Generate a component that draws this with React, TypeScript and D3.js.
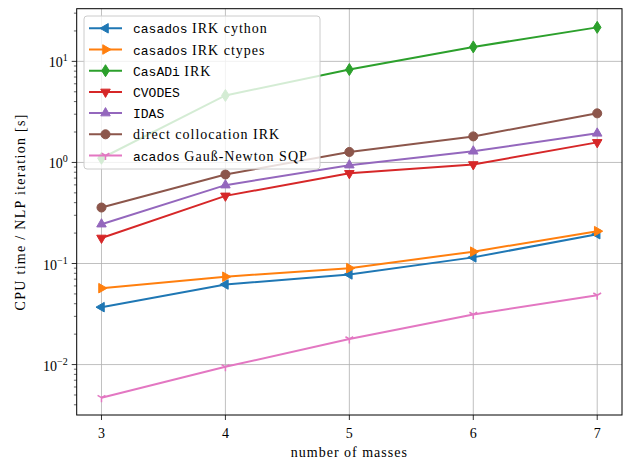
import React, { useEffect, useRef } from 'react';
import * as d3 from 'd3';

// number of masses on the x axis
const masses = [3, 4, 5, 6, 7];

// CPU time per NLP iteration [s]
const casadosCython = [0.037, 0.062, 0.078, 0.115, 0.195];
const casadosCtypes = [0.057, 0.074, 0.090, 0.131, 0.209];
const casadiIrk = [1.10, 4.6, 8.3, 13.9, 21.7];
const cvodes = [0.179, 0.467, 0.78, 0.955, 1.58];
const idas = [0.245, 0.596, 0.94, 1.29, 1.94];
const directCollocation = [0.358, 0.76, 1.27, 1.81, 3.06];
const acadosGN = [0.0047, 0.0095, 0.0179, 0.0313, 0.0485];

const xTicks = [3, 4, 5, 6, 7];
const yTickExponents = [-2, -1, 0, 1];

const series = [
    { mono: 'casados', rest: ' IRK cython', values: casadosCython, color: '#1f77b4', marker: 'left' },
    { mono: 'casados', rest: ' IRK ctypes', values: casadosCtypes, color: '#ff7f0e', marker: 'right' },
    { mono: 'CasADi', rest: ' IRK', values: casadiIrk, color: '#2ca02c', marker: 'diamond' },
    { mono: 'CVODES', rest: '', values: cvodes, color: '#d62728', marker: 'down' },
    { mono: 'IDAS', rest: '', values: idas, color: '#9467bd', marker: 'up' },
    { mono: '', rest: 'direct collocation IRK', values: directCollocation, color: '#8c564b', marker: 'circle' },
    { mono: 'acados', rest: ' Gauß-Newton SQP', values: acadosGN, color: '#e377c2', marker: 'tri' },
];

const SERIF = '"Liberation Serif", "DejaVu Serif", serif';
const MONO = '"Liberation Mono", "DejaVu Sans Mono", monospace';

const markerPath = (type: string) => {
    const r = 5.5;
    const h = r * Math.sqrt(3) / 2;
    switch (type) {
        case 'up': return `M0,${-r}L${h},${r / 2}L${-h},${r / 2}Z`;
        case 'down': return `M0,${r}L${h},${-r / 2}L${-h},${-r / 2}Z`;
        case 'left': return `M${-r},0L${r / 2},${-h}L${r / 2},${h}Z`;
        case 'right': return `M${r},0L${-r / 2},${-h}L${-r / 2},${h}Z`;
        case 'diamond': return `M0,-6L3.8,0L0,6L-3.8,0Z`;
        case 'circle': return d3.symbol(d3.symbolCircle, 64)();
        case 'tri': return `M0,0L0,4.5M0,0L-3.9,-2.25M0,0L3.9,-2.25`;
        default: return '';
    }
};

const drawMarker = (g, type: string, color: string, x: number, y: number) => {
    const p = g.append('path')
        .attr('d', markerPath(type))
        .attr('transform', `translate(${x},${y})`);
    if (type === 'tri') {
        p.attr('fill', 'none').attr('stroke', color).attr('stroke-width', 1.5);
    } else {
        p.attr('fill', color).attr('stroke', color).attr('stroke-width', 1);
    }
};

const serifText = sel => sel
    .style('font-family', SERIF)
    .style('font-size', '14px')
    .style('letter-spacing', '1px');

const App = () => {
    const svgRef = useRef(null);
    const width = 624;
    const height = 462;
    const margin = { top: 8.7, right: 2, bottom: 47, left: 76.7 };

    useEffect(() => {
        const svg = d3.select(svgRef.current);
        svg.selectAll('*').remove();

        const x = d3.scaleLinear()
            .domain([2.8, 7.2])
            .range([margin.left, width - margin.right]);

        const y = d3.scaleLog()
            .domain([0.00317, 33.2])
            .range([height - margin.bottom, margin.top]);

        const [x0, x1] = x.range();
        const [y0, y1] = y.range();

        // grid
        const grid = svg.append('g').attr('stroke', '#b0b0b0').attr('stroke-width', 0.8);
        xTicks.forEach(t => {
            grid.append('line').attr('x1', x(t)).attr('x2', x(t)).attr('y1', y0).attr('y2', y1);
        });
        yTickExponents.forEach(e => {
            grid.append('line').attr('x1', x0).attr('x2', x1).attr('y1', y(10 ** e)).attr('y2', y(10 ** e));
        });

        // series
        series.forEach(s => {
            const pts = masses.map((m, i) => [x(m), y(s.values[i])] as [number, number]);
            svg.append('path')
                .attr('d', d3.line()(pts))
                .attr('fill', 'none')
                .attr('stroke', s.color)
                .attr('stroke-width', 2);
            const mg = svg.append('g');
            pts.forEach(p => drawMarker(mg, s.marker, s.color, p[0], p[1]));
        });

        // frame
        svg.append('rect')
            .attr('x', x0).attr('y', y1)
            .attr('width', x1 - x0).attr('height', y0 - y1)
            .attr('fill', 'none').attr('stroke', '#000').attr('stroke-width', 1);

        // x ticks
        const xa = svg.append('g');
        xTicks.forEach(t => {
            xa.append('line').attr('x1', x(t)).attr('x2', x(t)).attr('y1', y0).attr('y2', y0 + 5)
                .attr('stroke', '#000').attr('stroke-width', 0.8);
            xa.append('text').attr('x', x(t)).attr('y', y0 + 22.5)
                .attr('text-anchor', 'middle').call(serifText).style('letter-spacing', '0px')
                .text(t);
        });

        // y ticks, major and minor
        const ya = svg.append('g');
        yTickExponents.forEach(e => {
            const yy = y(10 ** e);
            ya.append('line').attr('x1', x0 - 5).attr('x2', x0).attr('y1', yy).attr('y2', yy)
                .attr('stroke', '#000').attr('stroke-width', 0.8);
            const label = ya.append('text').attr('x', x0 - 9).attr('y', yy + 6)
                .attr('text-anchor', 'end').style('font-family', SERIF).style('font-size', '14px');
            label.append('tspan').text('10');
            label.append('tspan').attr('dy', -6).style('font-size', '10px')
                .text(e < 0 ? `\u2212${-e}` : `${e}`);
        });
        for (let e = -3; e <= 1; e++) {
            for (let k = 2; k <= 9; k++) {
                const v = k * 10 ** e;
                if (v < y.domain()[0] || v > y.domain()[1]) continue;
                const yy = y(v);
                ya.append('line').attr('x1', x0 - 2.8).attr('x2', x0).attr('y1', yy).attr('y2', yy)
                    .attr('stroke', '#000').attr('stroke-width', 0.6);
            }
        }

        // axis labels
        svg.append('text')
            .attr('x', (x0 + x1) / 2).attr('y', 456.7)
            .attr('text-anchor', 'middle').call(serifText)
            .text('number of masses');
        svg.append('text')
            .attr('transform', `translate(25,${(y0 + y1) / 2}) rotate(-90)`)
            .attr('text-anchor', 'middle').call(serifText).style('letter-spacing', '1.3px')
            .text('CPU time / NLP iteration [s]');

        // legend
        const lg = svg.append('g');
        lg.append('rect')
            .attr('x', 84).attr('y', 16).attr('width', 236).attr('height', 153)
            .attr('rx', 3)
            .attr('fill', '#fff').attr('fill-opacity', 0.8)
            .attr('stroke', '#cccccc').attr('stroke-width', 1);
        series.forEach((s, i) => {
            const ly = 28.3 + i * 21.2;
            lg.append('line').attr('x1', 89).attr('x2', 122).attr('y1', ly).attr('y2', ly)
                .attr('stroke', s.color).attr('stroke-width', 2);
            drawMarker(lg, s.marker, s.color, 105.5, ly);
            const t = lg.append('text').attr('x', 133).attr('y', ly + 5)
                .style('font-family', SERIF).style('font-size', '14px');
            if (s.mono) {
                t.append('tspan').style('font-family', MONO).style('font-size', '13px').text(s.mono);
            }
            t.append('tspan').style('white-space', 'pre').style('letter-spacing', '1px').text(s.rest);
        });
    }, []);

    return (
        <svg ref={svgRef} width={width} height={height}
            style={{ position: 'absolute', left: 0, top: 0, background: '#fff' }} />
    );
};

export default App;
